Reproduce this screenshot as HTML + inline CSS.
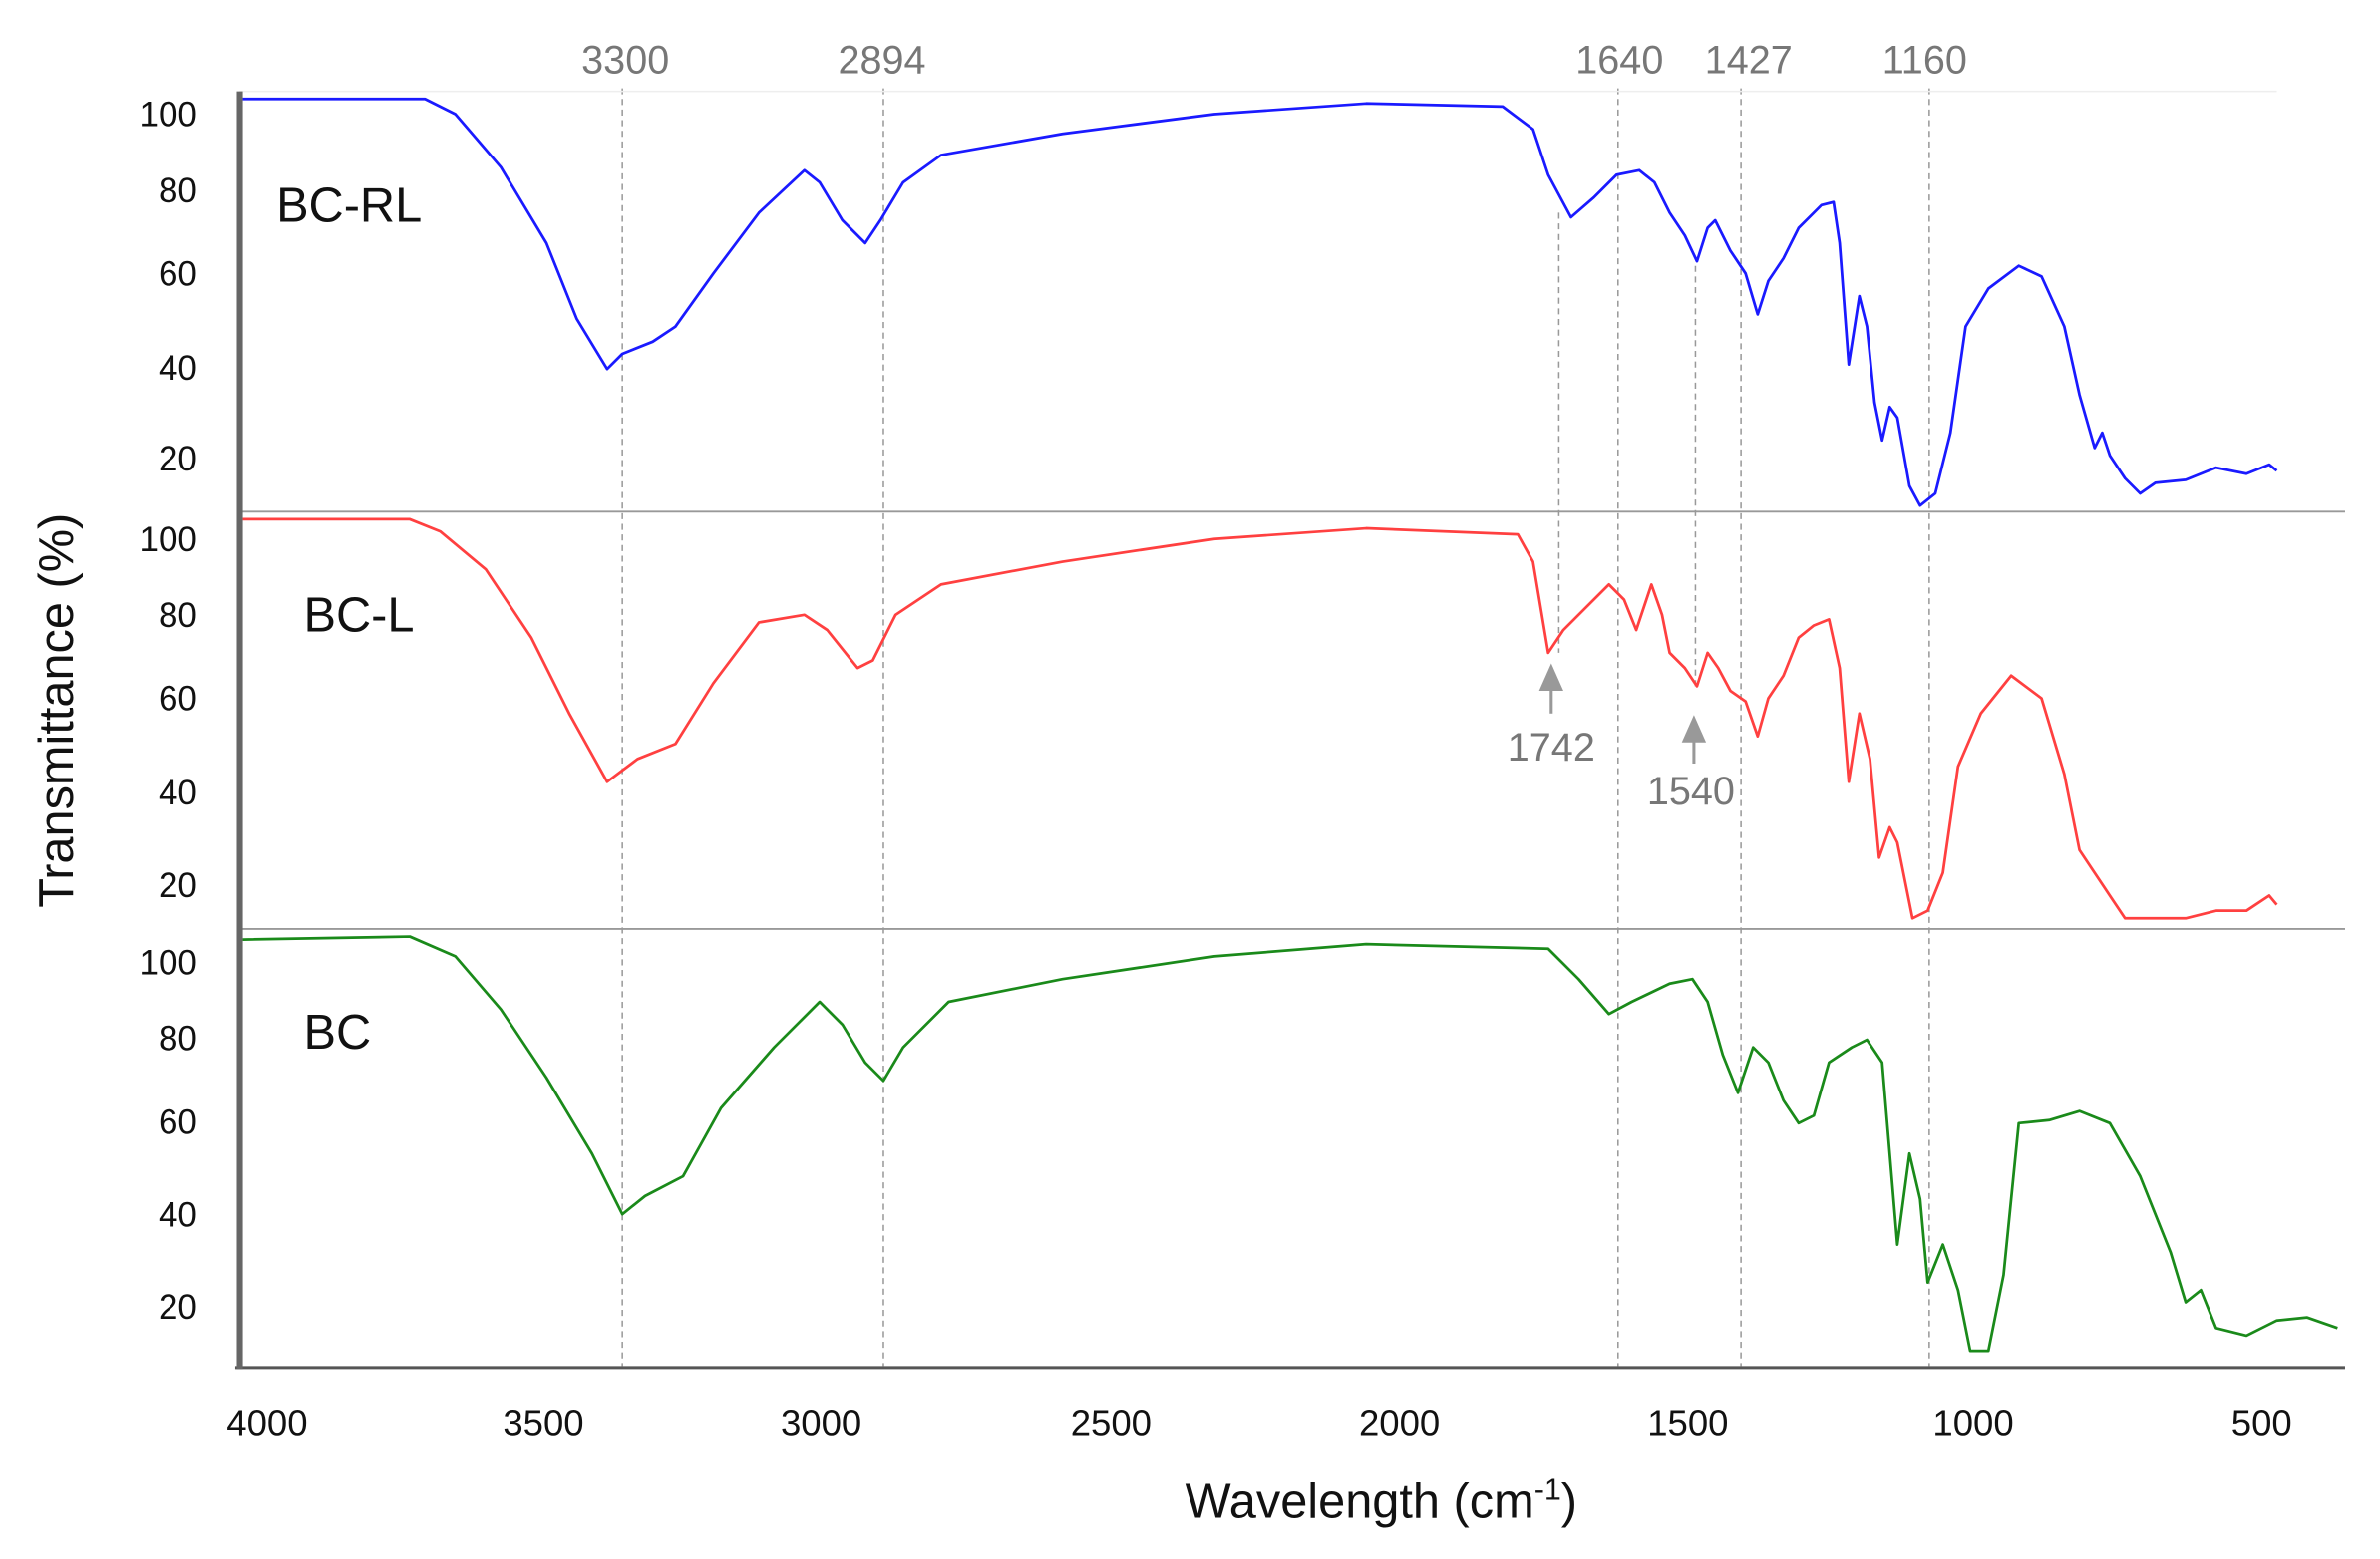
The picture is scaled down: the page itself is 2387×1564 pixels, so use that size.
<!DOCTYPE html>
<html><head><meta charset="utf-8"><style>html,body{margin:0;padding:0;background:#fff}svg{display:block}</style></head>
<body>
<svg width="2387" height="1564" viewBox="0 0 1568 1027" xmlns="http://www.w3.org/2000/svg" font-family="Liberation Sans, DejaVu Sans, sans-serif">
<rect width="1568" height="1027" fill="#fff"/>
<g stroke="#999" stroke-width="1" stroke-dasharray="4,3">
<line x1="410" y1="58" x2="410" y2="900"/>
<line x1="582" y1="58" x2="582" y2="900"/>
<line x1="1066" y1="58" x2="1066" y2="900"/>
<line x1="1147" y1="58" x2="1147" y2="900"/>
<line x1="1271" y1="58" x2="1271" y2="900"/>
<line x1="1027" y1="140" x2="1027" y2="430"/>
<line x1="1117" y1="175" x2="1117" y2="455"/>
</g>
<line x1="158" y1="60" x2="1500" y2="60" stroke="#eee"/>
<line x1="158" y1="337" x2="1545" y2="337" stroke="#999" stroke-width="1.2"/>
<line x1="158" y1="612" x2="1545" y2="612" stroke="#999" stroke-width="1.2"/>
<line x1="155" y1="901" x2="1545" y2="901" stroke="#555" stroke-width="2"/>
<line x1="158" y1="60" x2="158" y2="902" stroke="#666" stroke-width="4"/>
<g fill="#111" font-size="23" text-anchor="end">
<text x="130" y="83">100</text><text x="130" y="133">80</text><text x="130" y="188">60</text><text x="130" y="250">40</text><text x="130" y="310">20</text>
<text x="130" y="363">100</text><text x="130" y="413">80</text><text x="130" y="468">60</text><text x="130" y="530">40</text><text x="130" y="591">20</text>
<text x="130" y="642">100</text><text x="130" y="692">80</text><text x="130" y="747">60</text><text x="130" y="808">40</text><text x="130" y="869">20</text>
</g>
<g fill="#111" font-size="24" text-anchor="middle">
<text x="176" y="946">4000</text><text x="358" y="946">3500</text><text x="541" y="946">3000</text><text x="732" y="946">2500</text><text x="922" y="946">2000</text><text x="1112" y="946">1500</text><text x="1300" y="946">1000</text><text x="1490" y="946">500</text>
</g>
<text x="910" y="1000" font-size="32" text-anchor="middle" fill="#111">Wavelength (cm<tspan font-size="20" dy="-12">-1</tspan><tspan dy="12">)</tspan></text>
<text transform="translate(48,468) rotate(-90)" font-size="32" text-anchor="middle" fill="#111">Transmittance (%)</text>
<g fill="#777" font-size="26" text-anchor="middle">
<text x="412" y="48">3300</text><text x="581" y="48">2894</text><text x="1067" y="48">1640</text><text x="1152" y="48">1427</text><text x="1268" y="48">1160</text>
<text x="1022" y="501">1742</text><text x="1114" y="530">1540</text>
</g>
<g fill="#999" stroke="#999" stroke-width="2">
<line x1="1022" y1="450" x2="1022" y2="470"/><polygon points="1014,455 1030,455 1022,437" stroke="none"/>
<line x1="1116" y1="485" x2="1116" y2="503"/><polygon points="1108,489 1124,489 1116,471" stroke="none"/>
</g>
<g fill="#111" font-size="32">
<text x="182" y="146">BC-RL</text><text x="200" y="416">BC-L</text><text x="200" y="691">BC</text>
</g>
<g fill="none" stroke-width="1.8" stroke-linejoin="round">
<polyline stroke="#1a1aff" points="160,65 280,65 300,75 330,110 360,160 380,210 400,243 410,233 430,225 445,215 470,180 500,140 530,112 540,120 555,145 570,160 580,145 595,120 620,102 700,88 800,75 900,68 990,70 1010,85 1020,115 1035,143 1050,130 1065,115 1080,112 1090,120 1100,140 1110,155 1118,172 1125,150 1130,145 1140,165 1150,180 1158,207 1165,185 1175,170 1185,150 1195,140 1200,135 1208,133 1212,160 1218,240 1225,195 1230,215 1235,265 1240,290 1245,268 1250,275 1258,320 1265,333 1275,325 1285,285 1295,215 1310,190 1330,175 1345,182 1360,215 1370,260 1380,295 1385,285 1390,300 1400,315 1410,325 1420,318 1440,316 1460,308 1480,312 1495,306 1500,310"/>
<polyline stroke="#ff4040" points="160,342 270,342 290,350 320,375 350,420 375,470 400,515 420,500 445,490 470,450 500,410 530,405 545,415 565,440 575,435 590,405 620,385 700,370 800,355 900,348 1000,352 1010,370 1020,430 1030,415 1045,400 1060,385 1070,395 1078,415 1088,385 1095,405 1100,430 1110,440 1118,452 1125,430 1132,440 1140,455 1150,462 1158,485 1165,460 1175,445 1185,420 1195,412 1205,408 1212,440 1218,515 1225,470 1232,500 1238,565 1245,545 1250,555 1260,605 1270,600 1280,575 1290,505 1305,470 1325,445 1345,460 1360,510 1370,560 1380,575 1390,590 1400,605 1420,605 1440,605 1460,600 1480,600 1495,590 1500,596"/>
<polyline stroke="#1a8a1a" points="160,619 270,617 300,630 330,665 360,710 390,760 410,800 425,788 450,775 475,730 510,690 540,660 555,675 570,700 582,712 595,690 625,660 700,645 800,630 900,622 1020,625 1040,645 1060,668 1075,660 1100,648 1115,645 1125,660 1135,695 1145,720 1155,690 1165,700 1175,725 1185,740 1195,735 1205,700 1220,690 1230,685 1240,700 1245,760 1250,820 1258,760 1265,790 1270,845 1280,820 1290,850 1298,890 1310,890 1320,840 1330,740 1350,738 1370,732 1390,740 1410,775 1430,825 1440,858 1450,850 1460,875 1480,880 1500,870 1520,868 1540,875"/>
</g>
</svg>
</body></html>
